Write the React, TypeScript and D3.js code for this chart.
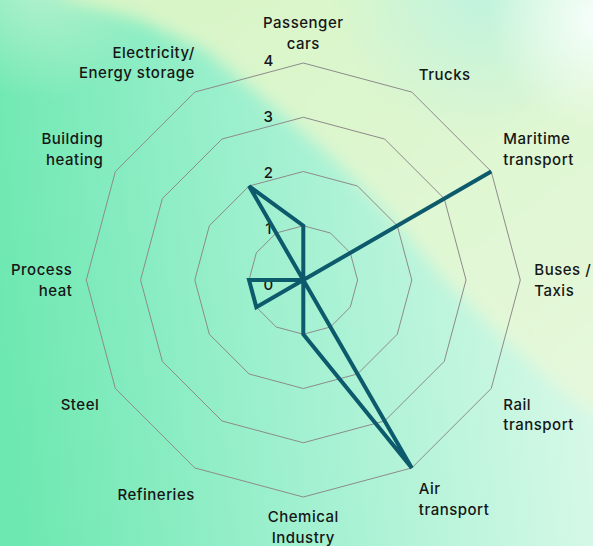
import React from 'react';
import * as d3 from 'd3';

const categories = [
  'Passenger\ncars',
  'Trucks',
  'Maritime\ntransport',
  'Buses /\nTaxis',
  'Rail\ntransport',
  'Air\ntransport',
  'Chemical\nIndustry',
  'Refineries',
  'Steel',
  'Process\nheat',
  'Building\nheating',
  'Electricity/\nEnergy storage',
];
const values = [1, 0, 4, 0, 0, 4, 1, 0, 1, 1, 0, 2];
const tickValues = [0, 1, 2, 3, 4];

const W = 593;
const H = 546;
const cx = 303.3;
const cy = 280;
const R = 217;
const LABEL_R = 231;
const LH = 20.8;
const FONT = 'Inter, "Open Sans", sans-serif';
const LINE_COLOR = '#0c5a6c';
const GRID_COLOR = '#8d8b8b';
const TEXT_COLOR = '#161616';
// small layout nudges for a few labels [dx, dy]
const labelNudge: Record<number, [number, number]> = {
  6: [0, -3],
  7: [7, 6],
  8: [-4, 0],
  11: [7, -1.5],
};

export default function App() {
  const n = categories.length;
  const r = d3.scaleLinear().domain([0, 4]).range([0, R]);
  const ang = d3.scaleLinear().domain([0, n]).range([0, 2 * Math.PI]);
  const pt = (i: number, rad: number): [number, number] => [
    cx + rad * Math.sin(ang(i)),
    cy - rad * Math.cos(ang(i)),
  ];
  const closed = d3.line().curve(d3.curveLinearClosed);

  const rings = tickValues.filter((v) => v > 0).map((v) =>
    closed(d3.range(n).map((i) => pt(i, r(v))))
  );
  const dataPath = closed(values.map((v, i) => pt(i, r(v))));

  const paleRegion: [number, number][] = [
    [30, -80], [65, 0], [135, 18], [205, 50], [268, 102], [335, 160],
    [390, 215], [440, 275], [500, 335], [560, 390], [620, 430],
    [720, 440], [720, -80],
  ];

  return (
    <svg
      width={W}
      height={H}
      viewBox={`0 0 ${W} ${H}`}
      style={{ position: 'fixed', left: 0, top: 0, display: 'block' }}
    >
      <defs>
        <linearGradient id="mint" x1="0" y1="0.55" x2="1" y2="0.45">
          <stop offset="0" stopColor="#6ee8b1" />
          <stop offset="0.5" stopColor="#a4f1d2" />
          <stop offset="1" stopColor="#daf9e9" />
        </linearGradient>
        <linearGradient id="pale" x1="0" y1="0" x2="1" y2="1">
          <stop offset="0" stopColor="#d4f4c2" />
          <stop offset="0.6" stopColor="#e0f7d3" />
          <stop offset="1" stopColor="#e8f9e0" />
        </linearGradient>
        <radialGradient id="cyan" cx="480" cy="-10" r="150" gradientUnits="userSpaceOnUse">
          <stop offset="0" stopColor="#c0f3de" stopOpacity="1" />
          <stop offset="1" stopColor="#c0f3de" stopOpacity="0" />
        </radialGradient>
        <radialGradient id="white" cx="600" cy="20" r="110" gradientUnits="userSpaceOnUse">
          <stop offset="0" stopColor="#f6fffc" stopOpacity="1" />
          <stop offset="1" stopColor="#f6fffc" stopOpacity="0" />
        </radialGradient>
        <radialGradient id="tl" cx="40" cy="-20" r="120" gradientUnits="userSpaceOnUse">
          <stop offset="0" stopColor="#c4f3d2" stopOpacity="0.8" />
          <stop offset="1" stopColor="#c4f3d2" stopOpacity="0" />
        </radialGradient>
        <filter id="blur" x="-20%" y="-20%" width="140%" height="140%">
          <feGaussianBlur stdDeviation="8" />
        </filter>
      </defs>

      <rect x={0} y={0} width={W} height={H} fill="url(#mint)" />
      <rect x={0} y={0} width={W} height={H} fill="url(#tl)" />
      <polygon
        points={paleRegion.map((p) => p.join(',')).join(' ')}
        fill="url(#pale)"
        filter="url(#blur)"
      />
      <rect x={0} y={0} width={W} height={H} fill="url(#cyan)" />
      <rect x={0} y={0} width={W} height={H} fill="url(#white)" />

      <g fill="none" stroke={GRID_COLOR} strokeWidth={1}>
        {rings.map((d, k) => (
          <path key={k} d={d || ''} />
        ))}
      </g>

      <g fontFamily={FONT} fontSize={15} fontWeight={500} fill={TEXT_COLOR} textAnchor="middle">
        {tickValues.map((v) => (
          <text key={v} x={cx - 35} y={cy - r(v) * 1.03 + 4 + 5.5}>
            {v}
          </text>
        ))}
      </g>

      <path
        d={dataPath || ''}
        fill="none"
        stroke={LINE_COLOR}
        strokeWidth={4}
        strokeLinejoin="miter"
      />

      <g fontFamily={FONT} fontSize={15} fontWeight={500} fill={TEXT_COLOR} letterSpacing={0.5}>
        {categories.map((c, i) => {
          const lines = c.split('\n');
          const deg = (i * 360) / n;
          const [px0, py0] = pt(i, LABEL_R);
          const [ndx, ndy] = labelNudge[i] || [0, 0];
          const px = px0 + ndx;
          const py = py0 + ndy;
          const anchor = deg === 0 || deg === 180 ? 'middle' : deg < 180 ? 'start' : 'end';
          const m = lines.length;
          const baseline = (k: number) => {
            if (deg === 90 || deg === 270) return py + (k - (m - 1) / 2) * LH + 5.5;
            if (deg < 90 || deg > 270) return py - (m - 1 - k) * LH;
            return py + 14 + k * LH;
          };
          return (
            <text key={i} textAnchor={anchor}>
              {lines.map((l, k) => (
                <tspan key={k} x={px} y={baseline(k)}>
                  {l}
                </tspan>
              ))}
            </text>
          );
        })}
      </g>
    </svg>
  );
}
